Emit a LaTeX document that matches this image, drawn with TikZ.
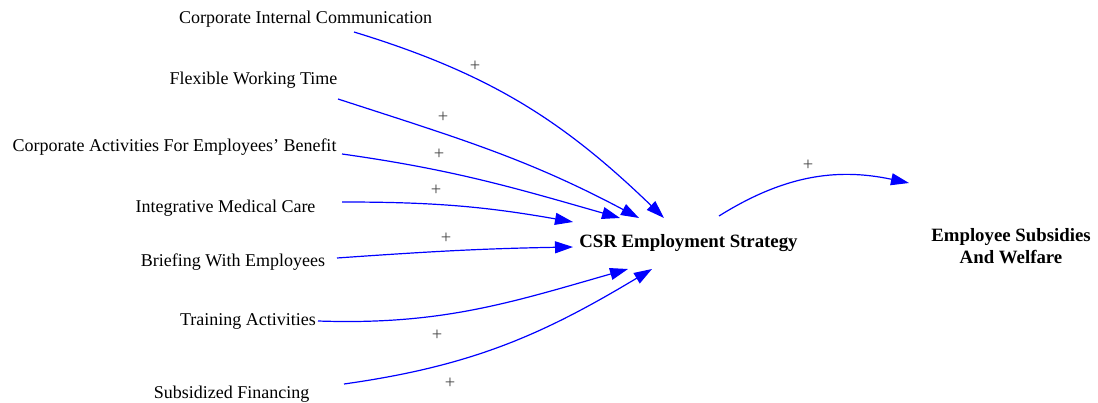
\documentclass[tikz,border=0pt]{standalone}
\usepackage{fontspec}
\setmainfont{Liberation Serif}
\usetikzlibrary{arrows.meta}
\definecolor{linkblue}{RGB}{0,0,255}
\definecolor{polgray}{RGB}{70,70,70}
\begin{document}
\begin{tikzpicture}[x=1pt,y=1pt,
  var/.style={inner sep=0pt, anchor=base, font=\fontsize{18}{22}\selectfont},
  mainvar/.style={inner sep=0pt, anchor=base, font=\fontsize{18.8}{22}\selectfont\bfseries},
  link/.style={draw=linkblue, line width=1.2pt, -{Triangle[length=18pt,width=12pt]}},
  pol/.style={inner sep=0pt, text=polgray, font=\fontsize{18.5}{20}\selectfont}]
\useasboundingbox (0,0) rectangle (1098,-403);

\node[var] (cic) at (305.5,-24) {Corporate Internal Communication};
\node[var] (fwt) at (253.5,-85) {Flexible Working Time};
\node[var] (caeb) at (174.5,-152) {Corporate Activities For Employees’ Benefit};
\node[var] (imc) at (225.5,-213) {Integrative Medical Care};
\node[var] (bwe) at (233,-267) {Briefing With Employees};
\node[var] (ta) at (248,-326) {Training Activities};
\node[var] (sf) at (231.5,-398) {Subsidized Financing};
\node[mainvar] (csr) at (688.5,-248) {CSR Employment Strategy};
\node[inner sep=0pt, align=center, font=\fontsize{18.8}{22}\selectfont\bfseries] (esw) at (1011,-246.6) {Employee Subsidies\\And Welfare};

\draw[link] ([shift={(48.5,-8)}]cic.base) to[out=-17,in=136] ([shift={(-24.5,30)}]csr.base);
\draw[link] ([shift={(84.5,-14)}]fwt.base) to[out=-18,in=152] ([shift={(-49.5,30)}]csr.base);
\draw[link] ([shift={(167.5,-2)}]caeb.base) to[out=-8,in=164] ([shift={(-68.5,30)}]csr.base);
\draw[link] ([shift={(116.5,11)}]imc.base) to[out=0,in=170] ([shift={(-115.5,26)}]csr.base);
\draw[link] ([shift={(104,9)}]bwe.base) to[out=4,in=181] ([shift={(-115.5,1)}]csr.base);
\draw[link] ([shift={(70,5)}]ta.base) to[out=-2,in=196] ([shift={(-60.5,-21)}]csr.base);
\draw[link] ([shift={(112.5,14)}]sf.base) to[out=8,in=211] ([shift={(-36.5,-21)}]csr.base);
\draw[link] ([shift={(30.5,32)}]csr.base) to[out=32,in=168] ([shift={(-102,63.6)}]esw.center);

\node[pol] (p1) at (475,-66) {+};
\node[pol] (p2) at (443,-117) {+};
\node[pol] (p3) at (439,-154) {+};
\node[pol] (p4) at (436,-190) {+};
\node[pol] (p5) at (446,-238) {+};
\node[pol] (p6) at (437,-335) {+};
\node[pol] (p7) at (450,-383) {+};
\node[pol] (p8) at (808,-165) {+};
\end{tikzpicture}
\end{document}
